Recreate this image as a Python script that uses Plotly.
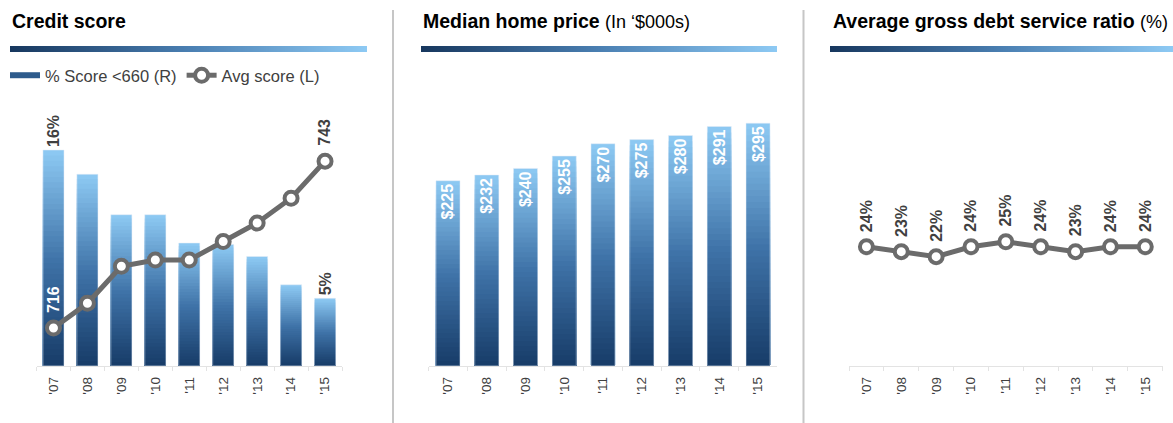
import plotly.graph_objects as go

# data
years = ["'07", "'08", "'09", "'10", "'11", "'12", "'13", "'14", "'15"]
score_below_660 = [16, 14.2, 11.2, 11.2, 9.1, 9.0, 8.1, 6.0, 5.0]   # %, right axis
avg_score = [716, 720, 726, 727, 727, 730, 733, 737, 743]             # left axis
home_price = [225, 232, 240, 255, 270, 275, 280, 291, 295]            # $000s
gds_ratio = [24, 23, 22, 24, 25, 24, 23, 24, 24]                      # %

W, H = 1173, 423
FONT = "Liberation Sans, Arial, sans-serif"
GREY = "#6b6b6b"
TXT = "#404040"


def px(x):
    return x / W


def py(y):
    return 1 - y / H


def mix(c1, c2, t):
    a = [int(c1[i:i + 2], 16) for i in (1, 3, 5)]
    b = [int(c2[i:i + 2], 16) for i in (1, 3, 5)]
    return "rgb(%d,%d,%d)" % tuple(round(a[k] + (b[k] - a[k]) * t) for k in range(3))


def bar_color(f):
    # dark navy at the foot of a bar, light blue at its top
    if f < 0.5:
        return mix("#163a66", "#3f73a8", f / 0.5)
    return mix("#3f73a8", "#8cc8f2", (f - 0.5) / 0.5)


def gradient_bars(fig, values, xa, ya, n=40):
    # stacked overlay layers so every bar shades from bottom to top
    for i in range(n):
        f = 1 - i / n
        fig.add_trace(go.Bar(
            x=years, y=[v * f for v in values], xaxis=xa, yaxis=ya,
            marker=dict(color=bar_color(f), line_width=0),
            showlegend=False, hoverinfo="skip"))


fig = go.Figure()

# ---- panel 1: credit score
gradient_bars(fig, score_below_660, "x", "y")
end_lbl = [f"{v:g}%" if i in (0, len(years) - 1) else "" for i, v in enumerate(score_below_660)]
fig.add_trace(go.Bar(
    x=years, y=score_below_660, xaxis="x", yaxis="y", text=end_lbl,
    textposition="outside", textangle=-90, cliponaxis=False, constraintext="none",
    outsidetextfont=dict(family=FONT, size=16, color=TXT, weight="bold"),
    marker=dict(color="rgba(0,0,0,0)"), showlegend=False, hoverinfo="skip"))
fig.add_trace(go.Scatter(
    x=[None], y=[None], xaxis="x", yaxis="y2", mode="lines",
    line=dict(color="#2d5b8c", width=6), name="% Score <660 (R)"))
fig.add_trace(go.Scatter(
    x=years, y=avg_score, xaxis="x", yaxis="y2", mode="lines+markers",
    line=dict(color=GREY, width=5), cliponaxis=False,
    marker=dict(size=13, color="white", line=dict(color=GREY, width=4)),
    name="Avg score (L)"))

# ---- panel 2: median home price
gradient_bars(fig, home_price, "x2", "y3")
fig.add_trace(go.Bar(
    x=years, y=home_price, xaxis="x2", yaxis="y3",
    text=[f"${v}" for v in home_price], textposition="inside",
    insidetextanchor="end", textangle=-90, constraintext="none",
    insidetextfont=dict(family=FONT, size=16, color="white", weight="bold"),
    marker=dict(color="rgba(0,0,0,0)"), showlegend=False, hoverinfo="skip"))

# ---- panel 3: gross debt service ratio
fig.add_trace(go.Scatter(
    x=years, y=gds_ratio, xaxis="x3", yaxis="y4", mode="lines+markers",
    line=dict(color=GREY, width=5), cliponaxis=False,
    marker=dict(size=13, color="white", line=dict(color=GREY, width=4)),
    showlegend=False))

# ---- gradient strips under the titles
strip_scale = [[0, "#17375e"], [0.5, "#4a7fb2"], [1, "#8ecaf4"]]
for k in (4, 5, 6):
    fig.add_trace(go.Heatmap(
        z=[[0, 1], [0, 1]], x=[0, 1], y=[0, 1], zsmooth="best",
        colorscale=strip_scale, showscale=False, hoverinfo="skip",
        xaxis=f"x{k}", yaxis=f"y{k + 1}"))

xcommon = dict(
    type="category", range=[-0.5, len(years) - 0.5],
    showline=True, linecolor="#e3e3e3", linewidth=1,
    ticks="outside", tickson="boundaries", ticklen=4, tickcolor="#e3e3e3",
    tickangle=-90, ticklabelstandoff=5, tickfont=dict(family=FONT, size=13.5, color=TXT),
    showgrid=False, zeroline=False, fixedrange=True)
ycommon = dict(visible=False, showgrid=False, zeroline=False, fixedrange=True)
plot_y = [py(365.7), py(100)]
strip_y = [py(52), py(46)]
hidden = dict(visible=False, fixedrange=True)

layout = dict(
    width=W, height=H, margin=dict(l=0, r=0, t=0, b=0),
    paper_bgcolor="white", plot_bgcolor="white", barmode="overlay", bargap=0.38,
    font=dict(family=FONT, color=TXT),
    xaxis=dict(xcommon, domain=[px(36.5), px(342)], anchor="y"),
    yaxis=dict(ycommon, domain=plot_y, range=[0, 19.71], anchor="x"),
    yaxis2=dict(ycommon, overlaying="y", range=[709.9, 752.9], anchor="x"),
    xaxis2=dict(xcommon, domain=[px(428.6), px(777.4)], anchor="y3"),
    yaxis3=dict(ycommon, domain=plot_y, range=[0, 323.2], anchor="x2"),
    xaxis3=dict(xcommon, domain=[px(849), px(1162.7)], anchor="y4"),
    yaxis4=dict(ycommon, domain=plot_y, range=[0, 53.6], anchor="x3"),
    xaxis4=dict(hidden, domain=[px(10), px(367)], range=[0, 1], anchor="y5"),
    yaxis5=dict(hidden, domain=strip_y, range=[0, 1], anchor="x4"),
    xaxis5=dict(hidden, domain=[px(421), px(777)], range=[0, 1], anchor="y6"),
    yaxis6=dict(hidden, domain=strip_y, range=[0, 1], anchor="x5"),
    xaxis6=dict(hidden, domain=[px(830), 1], range=[0, 1], anchor="y7"),
    yaxis7=dict(hidden, domain=strip_y, range=[0, 1], anchor="x6"),
    legend=dict(orientation="h", x=px(5), y=py(75.5), xanchor="left", yanchor="middle",
                font=dict(family=FONT, size=16.5, color=TXT),
                bgcolor="rgba(0,0,0,0)", borderwidth=0, tracegroupgap=0),
    showlegend=True,
)
fig.update_layout(layout)

# panel titles
titles = [
    (10, "<b>Credit score</b>"),
    (421, "<b>Median home price</b> <span style='font-size:18px'>(In \u2018$000s)</span>"),
    (831, "<b>Average gross debt service ratio</b> <span style='font-size:18px'>(%)</span>"),
]
for x0, t in titles:
    fig.add_annotation(x=px(x0), y=py(21), xref="paper", yref="paper", text=t,
                       showarrow=False, xanchor="left", yanchor="middle",
                       font=dict(family=FONT, size=19.5, color="black"))

# labels on the line points
for i, col in ((0, "white"), (len(years) - 1, TXT)):
    fig.add_annotation(x=years[i], y=avg_score[i], xref="x", yref="y2",
                       text=f"<b>{avg_score[i]}</b>", showarrow=False, textangle=-90,
                       yanchor="bottom", yshift=13,
                       font=dict(family=FONT, size=16, color=col))
for i, v in enumerate(gds_ratio):
    fig.add_annotation(x=years[i], y=v, xref="x3", yref="y4",
                       text=f"<b>{v}%</b>", showarrow=False, textangle=-90,
                       yanchor="bottom", yshift=13,
                       font=dict(family=FONT, size=16, color=TXT))

# separators between panels
for xs in (393, 803.5):
    fig.add_shape(type="line", xref="paper", yref="paper",
                  x0=px(xs), x1=px(xs), y0=0, y1=py(10),
                  line=dict(color="#c6c6c6", width=2))

# drop the page's default body margin so the figure sits at the window origin
fig.write_html("out.html", config={"displayModeBar": False},
               post_script="document.body.style.margin='0';")
